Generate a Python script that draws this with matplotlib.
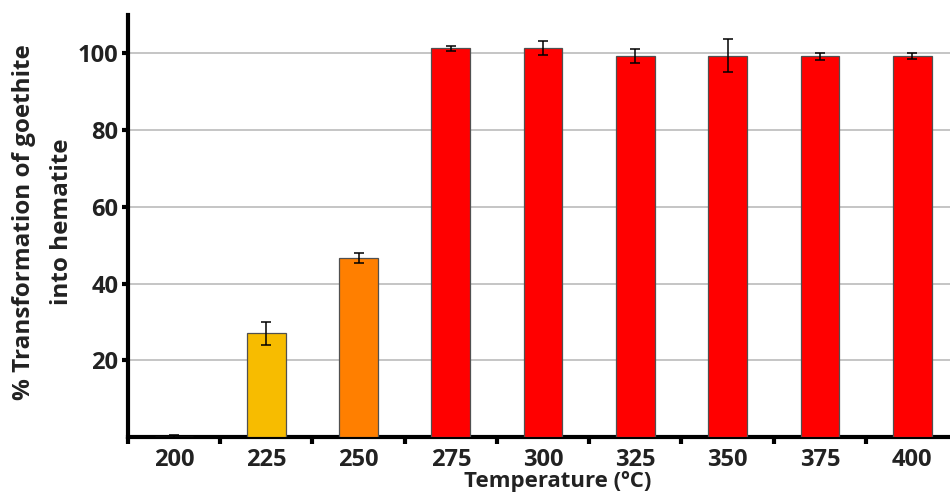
import matplotlib
matplotlib.use('Agg')
import matplotlib.pyplot as plt
import numpy as np

plt.rcParams['font.family'] = ['Open Sans', 'DejaVu Sans']

temps = ['200', '225', '250', '275', '300', '325', '350', '375', '400']
values = [0, 27.0, 46.6, 101.3, 101.4, 99.3, 99.4, 99.2, 99.3]
errors = [0.4, 3.0, 1.3, 0.7, 1.9, 1.9, 4.3, 1.0, 0.8]
colors = ['#F7BC00', '#F7BC00', '#FF7F00', '#FF0000', '#FF0000',
          '#FF0000', '#FF0000', '#FF0000', '#FF0000']

fig = plt.figure(figsize=(9.5, 4.95), dpi=100)
ax = fig.add_axes([0.1347, 0.1172, 0.874, 0.8525])

x = np.arange(len(temps))
ax.bar(x, values, width=0.42, color=colors, edgecolor='#505050', linewidth=0.9, zorder=3)
ax.errorbar(x, values, yerr=errors, fmt='none', ecolor='black', elinewidth=1.1,
            capsize=3.5, capthick=1.1, zorder=4)

ax.set_xlim(-0.5, len(temps) - 0.5)
ax.set_ylim(0, 110)
ax.set_yticks([20, 40, 60, 80, 100])
ax.yaxis.grid(True, color='#BBBBBB', linewidth=1.2, zorder=0)
ax.set_axisbelow(True)

# category labels centred, tick marks on the category boundaries
ax.set_xticks(x)
ax.set_xticklabels(temps, fontsize=17, fontweight='bold', color='#222222')
ax.tick_params(axis='x', length=0, pad=8)
ax.set_xticks(np.arange(-0.5, len(temps)), minor=True)
ax.tick_params(axis='x', which='minor', length=5, width=3, direction='out')
ax.tick_params(axis='y', length=4, width=3, direction='out', labelsize=17, pad=3,
               labelcolor='#222222')
for lab in ax.get_yticklabels():
    lab.set_fontweight('bold')

for s in ['top', 'right']:
    ax.spines[s].set_visible(False)
for s in ['left', 'bottom']:
    ax.spines[s].set_linewidth(3)
    ax.spines[s].set_color('black')

fig.text(558 / 950, 1 - 482 / 495, 'Temperature (ºC)', ha='center', va='center',
         fontsize=16, fontweight='bold', color='#222222')
ax.set_ylabel('% Transformation of goethite\ninto hematite', fontsize=17.5,
              fontweight='bold', color='#222222', linespacing=1.75)
ax.yaxis.set_label_coords(-0.065, 0.51)

fig.savefig('out.png', dpi=100)
